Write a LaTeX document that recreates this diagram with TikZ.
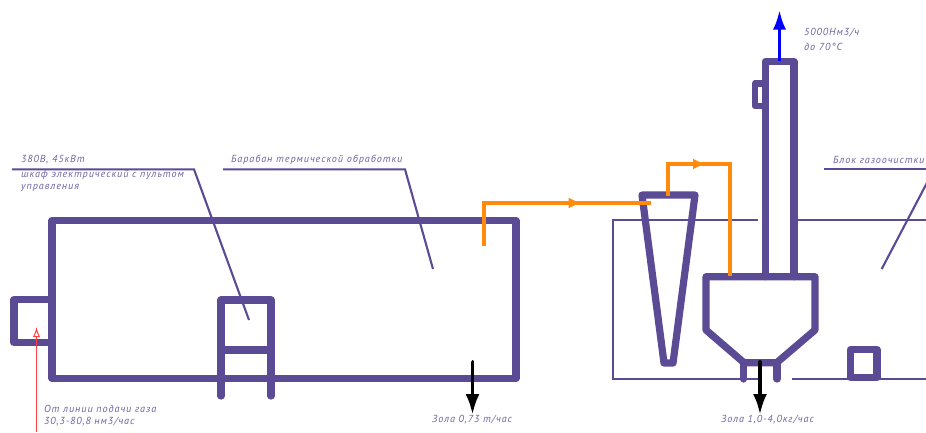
\documentclass[tikz,border=0pt]{standalone}
\usepackage{fontspec}
\setmainfont[ItalicFont=* Italic,LetterSpace=9]{PT Sans}
\usetikzlibrary{arrows.meta,decorations.markings}
\definecolor{plum}{HTML}{5B4A94}
\definecolor{labelc}{HTML}{6F62A3}
\definecolor{flowc}{HTML}{FF8A0C}
\tikzset{
 x=1pt,y=-1pt,
 heavy/.style={draw=plum,line width=7.2pt,line join=round,line cap=round},
 thin line/.style={draw=plum,line width=2.1pt},
 flow/.style={draw=flowc,line width=3.4pt,line join=miter},
 midflow/.style={postaction={decorate},decoration={markings,mark=at position #1 with {\arrow{Latex[length=13pt,width=11pt]}}}},
 ash/.style={draw=black,line width=3.8pt,line cap=round,-{Latex[length=21pt,width=14pt]}},
 lbl/.style={anchor=west,inner sep=0pt,text=labelc,font=\fontsize{10.2}{12}\selectfont\itshape},
}
\begin{document}
\begin{tikzpicture}
\useasboundingbox (0,0) rectangle (926,432);
\clip (0,0) rectangle (926,432);
% anchor points
\coordinate (drumIn) at (484,246);
\coordinate (cycIn) at (651,203);
\coordinate (cycOut) at (668,196);
\coordinate (hopIn) at (730,276);
\coordinate (ashA) at (472.5,362);
\coordinate (ashAe) at (472.5,415);
\coordinate (ashB) at (760,362);
\coordinate (ashBe) at (760,415);
\coordinate (stackTop) at (779.5,61);
\coordinate (stackEnd) at (779.5,9.5);
\coordinate (gasS) at (36.5,432);
\coordinate (gasE) at (36.5,327);
% thin block outline
\draw[thin line] (758,220) -- (612.7,220) -- (612.7,378.7) -- (758,378.7);
\draw[thin line] (797,220) -- (926,220);
\draw[thin line] (791.7,378.7) -- (926,378.7);
% drum
\draw[heavy] (52,220.5) rectangle (516,378.5);
\draw[heavy] (52,299.5) -- (14,299.5) -- (14,342.7) -- (52,342.7);
% cabinet
\draw[heavy] (221,396) -- (221,300) -- (271,300) -- (271,396);
\draw[heavy] (221,350) -- (271,350);
% cyclone
\draw[heavy] (642,195) -- (695,195) -- (673,363) -- (664,363) -- cycle;
% hopper
\draw[heavy] (706,276.7) -- (815,276.7) -- (815,330) -- (776.7,362.7) -- (744,362.7) -- (706,330) -- cycle;
\draw[heavy] (743.5,362.7) -- (743.5,379);
\draw[heavy] (777,362.7) -- (777,379);
% stack
\draw[heavy] (765.3,276.7) -- (765.3,61.5) -- (794,61.5) -- (794,276.7);
\draw[heavy,line width=6.6pt] (765,83.5) -- (755,83.5) -- (755,106) -- (765,106);
% small square
\draw[heavy] (850.5,349.5) rectangle (877,377.5);
% leaders
\draw[thin line] (12,169.3) -- (194,169.3) -- (249,320);
\draw[thin line] (223,169.3) -- (405,169.3) -- (433,269);
\draw[thin line] (824,169.3) -- (926,169.3);
\draw[thin line] (930,177) -- (881.7,269);
% flows
\draw[flow,midflow=0.67] (drumIn) |- (cycIn);
\draw[flow,midflow=0.34] (cycOut) -- (668,164) -- (730,164) -- (hopIn);
\draw[ash] (ashA) -- (ashAe);
\draw[ash] (ashB) -- (ashBe);
\draw[draw=blue,line width=3.8pt,-{Latex[length=20pt,width=13pt]}] (stackTop) -- (stackEnd);
\draw[draw=red!75!white,line width=1pt,-{Latex[open,length=10pt,width=7pt]}] (gasS) -- (gasE);
% labels
\node[lbl] (t1) at (21,160) {380В, 45кВт};
\node[lbl] (t2) at (21,174.5) {шкаф электрический с пультом};
\node[lbl] (t3) at (21,188) {управления};
\node[lbl] (t4) at (231,160) {Барабан термической обработки};
\node[lbl] (t5) at (833,160) {Блок газоочистки};
\node[lbl] (t6) at (804,33) {5000Нм3/ч};
\node[lbl] (t7) at (804,47) {до 70°С};
\node[lbl] (t8) at (44,409) {От линии подачи газа};
\node[lbl] (t9) at (44,422) {30,3-80,8 нм3/час};
\node[lbl] (t10) at (432,420) {Зола 0,73 т/час};
\node[lbl] (t11) at (721,420) {Зола 1,0-4,0кг/час};
\end{tikzpicture}
\end{document}
